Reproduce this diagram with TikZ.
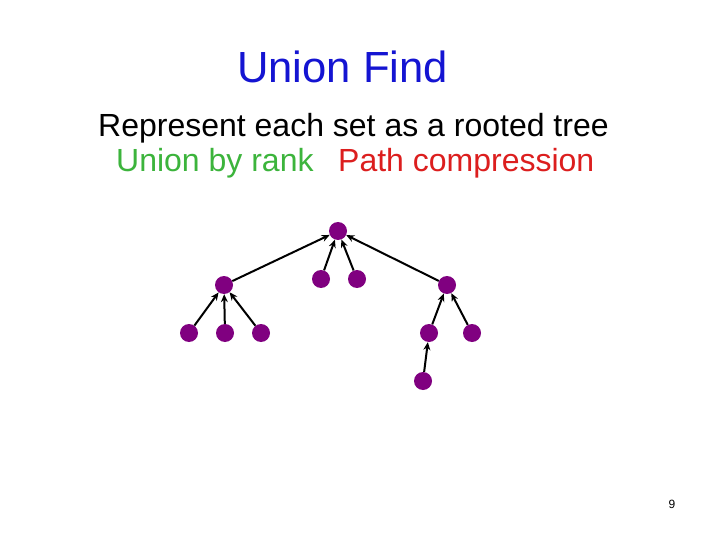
\documentclass[tikz,border=0pt]{standalone}
\usepackage{fontspec}
\setmainfont{Liberation Sans}
\usetikzlibrary{arrows.meta}
\definecolor{vert}{RGB}{128,0,128}
\definecolor{titleblue}{RGB}{20,20,210}
\definecolor{grn}{RGB}{60,180,60}
\definecolor{rd}{RGB}{220,30,30}
\begin{document}
\begin{tikzpicture}[x=1pt,y=-1pt,
  vtx/.style={circle,fill=vert,inner sep=0pt,minimum size=18pt},
  edge/.style={draw=black,line width=2pt,-{Stealth[length=8pt,width=7pt]}}]
\useasboundingbox (0,0) rectangle (720,540);
\fill[white] (0,0) rectangle (720,540);
\node[anchor=base west,text=titleblue,font=\fontsize{43.6}{50}\selectfont,inner sep=0pt] (title) at (237,83) {Union Find};
\node[anchor=base west,font=\fontsize{32}{38}\selectfont,inner sep=0pt] (sub) at (98,137) {Represent each set as a rooted tree};
\node[anchor=base west,text=grn,font=\fontsize{32}{38}\selectfont,inner sep=0pt] (ubr) at (116,172) {Union by rank};
\node[anchor=base west,text=rd,font=\fontsize{32}{38}\selectfont,inner sep=0pt] (pc) at (338,172) {Path compression};
\node[anchor=center,font=\fontsize{12}{14}\selectfont,inner sep=0pt] (pg) at (672,504) {9};
\node[vtx] (root) at (338,231) {};
\node[vtx] (l) at (224,285) {};
\node[vtx] (m1) at (321,279) {};
\node[vtx] (m2) at (357,279) {};
\node[vtx] (r) at (447,285) {};
\node[vtx] (ll1) at (189,333) {};
\node[vtx] (ll2) at (225,333) {};
\node[vtx] (ll3) at (261,333) {};
\node[vtx] (rl1) at (429,333) {};
\node[vtx] (rl2) at (472,333) {};
\node[vtx] (rll) at (423,381) {};
\draw[edge] (l) -- (root);
\draw[edge] (m1) -- (root);
\draw[edge] (m2) -- (root);
\draw[edge] (r) -- (root);
\draw[edge] (ll1) -- (l);
\draw[edge] (ll2) -- (l);
\draw[edge] (ll3) -- (l);
\draw[edge] (rl1) -- (r);
\draw[edge] (rl2) -- (r);
\draw[edge] (rll) -- (rl1);
\end{tikzpicture}
\end{document}
